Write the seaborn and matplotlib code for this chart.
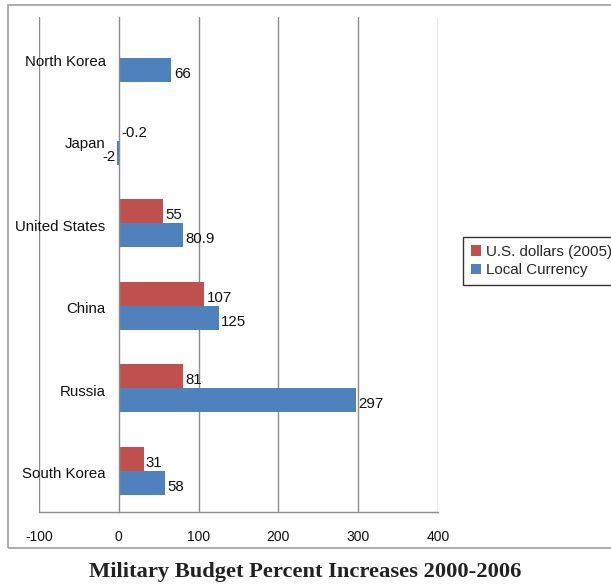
import numpy as np
import pandas as pd
import matplotlib
matplotlib.use("Agg")
import matplotlib.pyplot as plt
import seaborn as sns
from matplotlib.patches import Rectangle
from matplotlib.transforms import ScaledTranslation

countries = ["North Korea", "Japan", "United States", "China", "Russia", "South Korea"]
usd_2005 = [np.nan, -0.2, 55, 107, 81, 31]
local_currency = [66, -2, 80.9, 125, 297, 58]
series_names = ["U.S. dollars (2005)", "Local Currency"]
x_ticks = [-100, 0, 100, 200, 300, 400]
title = "Military Budget Percent Increases 2000-2006"

df = pd.DataFrame({
    "country": countries * 2,
    "series": [series_names[0]] * len(countries) + [series_names[1]] * len(countries),
    "value": usd_2005 + local_currency,
})

sns.set_theme(style="white")
plt.rcParams["font.family"] = ["Liberation Sans", "DejaVu Sans"]

W, H = 611, 586
fig = plt.figure(figsize=(W / 100, H / 100), dpi=100)
ax = fig.add_axes([39 / W, 1 - 512 / H, (438 - 39) / W, (512 - 17) / H])

palette = {series_names[0]: "#C0504D", series_names[1]: "#4F81BD"}
sns.barplot(data=df, y="country", x="value", hue="series", order=countries,
            hue_order=series_names, palette=palette, orient="h", width=0.58,
            saturation=1, ax=ax, legend=True, linewidth=0)

ax.set_xlim(-100, 400)
ax.set_ylim(5.5, -0.5)
ax.set_xlabel("")
ax.set_ylabel("")
ax.set_xticks(x_ticks)
ax.set_xticklabels([str(t) for t in x_ticks], fontsize=10, color="#111111")

grid_c = "#8c8c8c"
for t in x_ticks:
    if t != 0:
        ax.axvline(t, color=grid_c, lw=1, zorder=0)

for s in ["top", "right"]:
    ax.spines[s].set_visible(False)
ax.spines["left"].set_position(("data", 0))
ax.spines["left"].set_color(grid_c)
ax.spines["bottom"].set_color(grid_c)
ax.spines["left"].set_linewidth(1)
ax.spines["bottom"].set_linewidth(1)

ax.tick_params(axis="x", length=5, width=1, color=grid_c, direction="out", pad=8)
ax.tick_params(axis="y", which="major", length=0, pad=9.5, labelsize=10.8, labelcolor="#111111")
for lbl in ax.get_yticklabels():
    lbl.set_transform(lbl.get_transform() + ScaledTranslation(0, -0.02, fig.dpi_scale_trans))
ax.set_yticks(np.arange(-0.5, 6.0, 1.0), minor=True)
ax.tick_params(axis="y", which="minor", length=5, width=1, color=grid_c, direction="out")

fs = 10.8
for i, series in enumerate(series_names):
    vals = usd_2005 if i == 0 else local_currency
    for j, v in enumerate(vals):
        if np.isnan(v):
            continue
        yc = j + (i - 0.5) * 0.29
        lab = f"{v:g}"
        if v < -1:
            ax.text(v - 2, yc + 0.05, lab, ha="right", va="center", fontsize=fs, color="#111111")
        elif v < 0:
            ax.text(3, yc + 0.05, lab, ha="left", va="center", fontsize=fs, color="#111111")
        else:
            ax.text(v + 3, yc + 0.05, lab, ha="left", va="center", fontsize=fs, color="#111111")

leg = ax.legend(loc="center left", bbox_to_anchor=(463 / W, 1 - 261 / H),
                bbox_transform=fig.transFigure, frameon=True, fancybox=False,
                fontsize=10.9, handlelength=0.7, handleheight=0.7, handletextpad=0.3,
                borderpad=0.5, labelspacing=0.3, borderaxespad=0)
leg.get_frame().set_edgecolor("black")
leg.get_frame().set_linewidth(1)

fig.patches.append(Rectangle((8 / W, 1 - 548 / H), 1.2, (548 - 5) / H,
                             transform=fig.transFigure, fill=False,
                             edgecolor="#a0a0a0", linewidth=1.2, zorder=0))

fig.text(305 / W, 1 - 572 / H, title, ha="center", va="center", fontsize=16.2,
         fontweight="bold", family=["Liberation Serif", "DejaVu Serif"], color="#222222")

fig.savefig("out.png", dpi=100)
